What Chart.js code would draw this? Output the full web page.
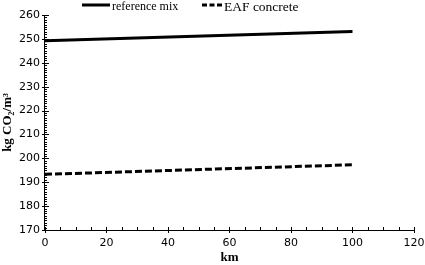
<!DOCTYPE html>
<html>
<head>
<meta charset="utf-8">
<script src="https://cdn.jsdelivr.net/npm/chart.js@4"></script>
<style>
  html, body { margin: 0; padding: 0; background: #fff; }
  #wrap { width: 425px; height: 265px; position: relative; }
</style>
</head>
<body>
<div id="wrap"><canvas id="chart"></canvas></div>
<script>
// distance (km) and emissions (kg CO2/m3)
const km = [0, 100];
const referenceMix = [249.2, 253.1];
const eafConcrete = [193.3, 197.3];
const seriesNames = ['reference mix', 'EAF concrete'];

const toPoints = (ys) => km.map((x, i) => ({ x: x, y: ys[i] }));

// small tick marks like the original (majors cross the axis, minors inside)
const axisTicks = {
  id: 'axisTicks',
  afterDraw(chart) {
    const { ctx, chartArea, scales } = chart;
    const xs = scales.x, ys = scales.y;
    ctx.save();
    ctx.strokeStyle = '#000';
    ctx.lineWidth = 1;
    ctx.beginPath();
    for (let v = xs.min; v <= xs.max; v += 5) {
      const px = Math.round(xs.getPixelForValue(v)) + 0.5;
      const major = v % 20 === 0;
      ctx.moveTo(px, chartArea.bottom + (major ? 3 : 0));
      ctx.lineTo(px, chartArea.bottom - 3);
    }
    for (let v = ys.min; v <= ys.max; v += 1) {
      const py = Math.round(ys.getPixelForValue(v)) + 0.5;
      const major = v % 10 === 0;
      ctx.moveTo(chartArea.left - (major ? 3 : 0), py);
      ctx.lineTo(chartArea.left + (major ? 4 : 2), py);
    }
    ctx.stroke();
    ctx.restore();
  }
};

// legend row on top, placed like in the source figure
const topLegend = {
  id: 'topLegend',
  afterDraw(chart) {
    const ctx = chart.ctx;
    const spots = [
      { x: 82, w: 28, dash: [], size: 12 },
      { x: 202, w: 20, dash: [5, 2.5], size: 13.5 },
    ];
    ctx.save();
    ctx.textBaseline = 'middle';
    ctx.fillStyle = '#000';
    chart.data.datasets.forEach((ds, i) => {
      const s = spots[i];
      ctx.beginPath();
      ctx.strokeStyle = ds.borderColor;
      ctx.lineWidth = ds.borderWidth;
      ctx.setLineDash(s.dash);
      ctx.moveTo(s.x, 5);
      ctx.lineTo(s.x + s.w, 5);
      ctx.stroke();
      ctx.font = s.size + 'px "Liberation Serif"';
      ctx.fillText(ds.label, s.x + s.w + 2, 7);
    });
    ctx.restore();
  }
};

const ctx = document.getElementById('chart').getContext('2d');
new Chart(ctx, {
  type: 'scatter',
  data: {
    datasets: [
      {
        label: seriesNames[0],
        data: toPoints(referenceMix),
        showLine: true,
        borderColor: '#000',
        backgroundColor: '#000',
        borderWidth: 3,
        pointRadius: 0,
      },
      {
        label: seriesNames[1],
        data: toPoints(eafConcrete),
        showLine: true,
        borderColor: '#000',
        backgroundColor: '#000',
        borderWidth: 3,
        borderDash: [7, 3],
        pointRadius: 0,
      },
    ],
  },
  options: {
    responsive: true,
    maintainAspectRatio: false,
    animation: false,
    layout: { padding: { left: 0, right: 0, top: 15, bottom: 0 } },
    scales: {
      x: {
        type: 'linear',
        min: 0,
        max: 120,
        afterFit(scale) {
          scale.paddingRight = 11;
          scale.height = 35;
        },
        grid: { display: false, drawTicks: false },
        border: { display: true, color: '#000', width: 1 },
        ticks: {
          stepSize: 20,
          padding: 7,
          color: '#000',
          maxRotation: 0,
          font: { family: 'DejaVu Sans', size: 11 },
        },
        title: {
          display: true,
          text: 'km',
          color: '#000',
          padding: { top: 2, bottom: 1 },
          font: { family: 'Liberation Serif', size: 13, weight: 'bold', lineHeight: 1 },
        },
      },
      y: {
        type: 'linear',
        min: 170,
        max: 260,
        grid: { display: false, drawTicks: false },
        border: { display: true, color: '#000', width: 1 },
        ticks: {
          stepSize: 10,
          padding: 5,
          color: '#000',
          font: { family: 'DejaVu Sans', size: 11 },
        },
        title: {
          display: true,
          text: 'kg CO₂/m³',
          color: '#000',
          padding: { top: 1, bottom: 0 },
          font: { family: 'Liberation Serif', size: 13, weight: 'bold', lineHeight: 1 },
        },
      },
    },
    plugins: {
      tooltip: { enabled: false },
      legend: { display: false },
    },
  },
  plugins: [axisTicks, topLegend],
});
</script>
</body>
</html>
